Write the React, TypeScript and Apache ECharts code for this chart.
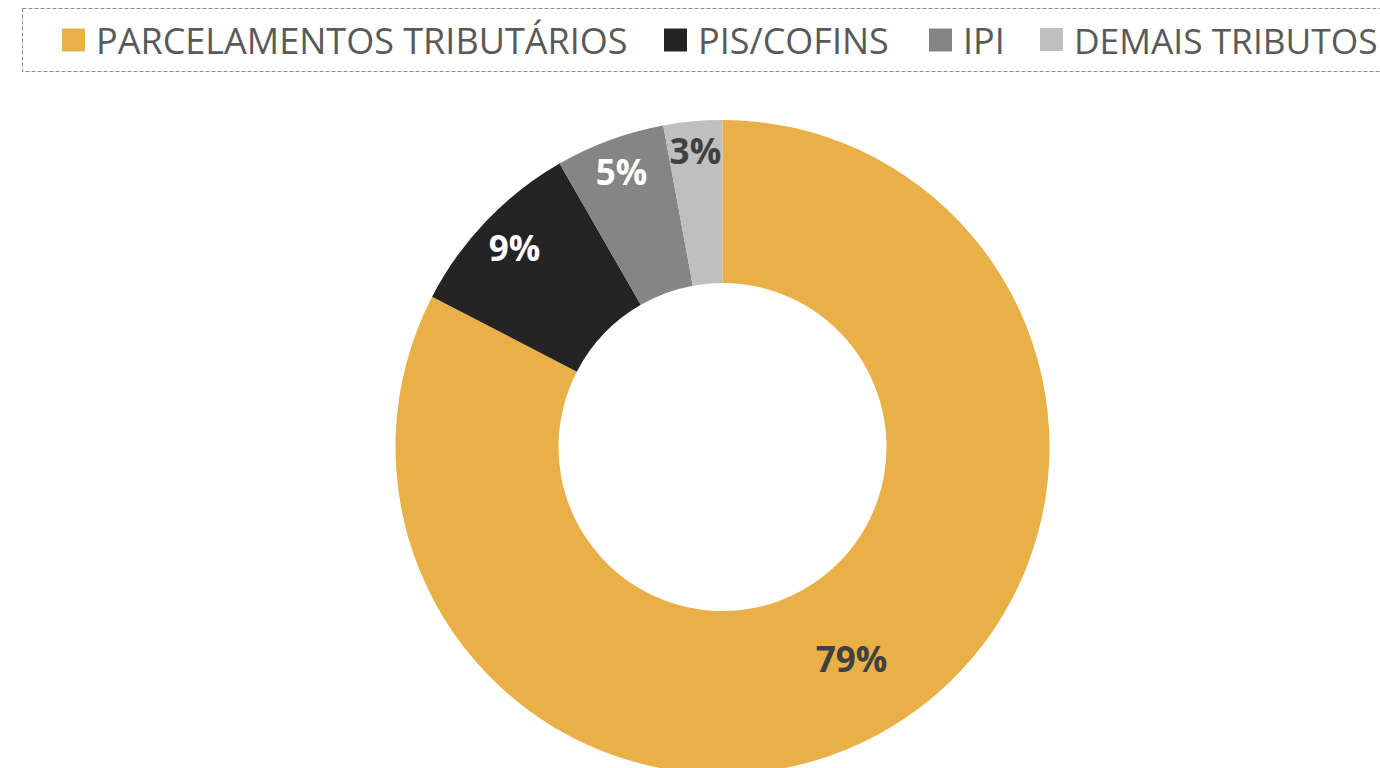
import React, { useEffect, useRef } from "react";
import * as echarts from "echarts";

const categories = ["PARCELAMENTOS TRIBUTÁRIOS", "PIS/COFINS", "IPI", "DEMAIS TRIBUTOS"];
const values = [82.6, 9.1, 5.4, 2.9];
const labelTexts = ["79%", "9%", "5%", "3%"];
const colors = ["#EAB048", "#242424", "#858585", "#BFBFBF"];
const labelColors = ["#404040", "#FFFFFF", "#FFFFFF", "#404040"];

const FONT = "'Open Sans', 'Noto Sans', sans-serif";
const legendLefts = [62, 664, 929, 1040];
const legendFontSizes = [36, 36, 36, 35.3];
const labelRadii = [245, 285, 290, 295];

export default function App() {
  const ref = useRef<HTMLDivElement>(null);
  useEffect(() => {
    if (!ref.current) return;
    const chart = echarts.init(ref.current, undefined, { renderer: "svg" });

    const labelSeries = categories.map((_, k) => ({
      type: "pie",
      center: [722.5, 447],
      radius: [labelRadii[k] - 20, labelRadii[k] + 20],
      startAngle: 90,
      clockwise: true,
      silent: true,
      legendHoverLink: false,
      data: categories.map((name, i) => ({
        name,
        value: values[i],
        itemStyle: { color: "rgba(0,0,0,0)" },
        label: { show: i === k, formatter: labelTexts[i], color: labelColors[i] },
      })),
      label: {
        position: "inside",
        fontFamily: FONT,
        fontSize: 35,
        fontWeight: "bold",
      },
      labelLine: { show: false },
      emphasis: { disabled: true },
      itemStyle: { borderWidth: 0 },
      z: 3,
    }));

    chart.setOption({
      animation: false,
      backgroundColor: "#FFFFFF",
      legend: categories.map((name, i) => ({
        data: [name],
        left: legendLefts[i],
        top: 22,
        padding: 0,
        itemWidth: 23,
        itemHeight: 23,
        icon: "rect",
        textStyle: {
          fontFamily: FONT,
          fontSize: legendFontSizes[i],
          color: "#595959",
          padding: [0, 0, 0, 6],
        },
        selectedMode: false,
      })),
      graphic: [
        {
          type: "rect",
          shape: { x: 22.5, y: 8.5, width: 1400, height: 63 },
          style: { fill: "none", stroke: "#8C8C8C", lineWidth: 1, lineDash: [4, 2] },
          silent: true,
          z: 0,
        },
      ],
      series: [
        {
          type: "pie",
          center: [722.5, 447],
          radius: [164, 327],
          startAngle: 90,
          clockwise: true,
          data: categories.map((name, i) => ({
            name,
            value: values[i],
            itemStyle: { color: colors[i] },
          })),
          label: { show: false },
          labelLine: { show: false },
          emphasis: { disabled: true },
          itemStyle: { borderWidth: 0 },
        },
        ...labelSeries,
      ],
    });
    return () => chart.dispose();
  }, []);
  return (
    <div
      ref={ref}
      style={{ position: "fixed", left: 0, top: 0, width: 1380, height: 768 }}
    />
  );
}
